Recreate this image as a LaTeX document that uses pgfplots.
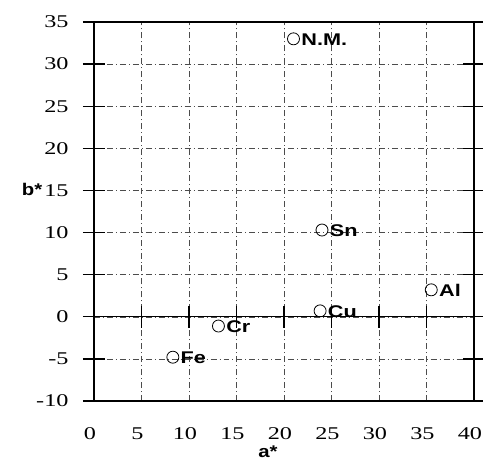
\documentclass[border=0pt]{standalone}
\usepackage{graphicx}
\usepackage{pgfplots}
\pgfplotsset{compat=1.18}
\usepackage{fontspec}
\setmainfont{Liberation Serif}
\newfontfamily\labelfont{Liberation Sans}
\newcommand{\wide}[2][1.35]{\scalebox{#1}[1]{#2}}

\pgfplotsset{
  frame/.style={
    scale only axis,
    width=380bp, height=379bp,
    xmin=0, xmax=40, ymin=-10, ymax=35,
  },
}

\begin{document}
\begin{tikzpicture}
% box, grid, b* ticks and all tick labels
\begin{axis}[
  frame,
  xtick={0,5,...,40}, ytick={-10,-5,...,35},
  axis line style={line width=1.2pt},
  grid=major,
  major grid style={black!70, line width=0.45pt, dash pattern=on 6pt off 3pt on 1pt off 3pt},
  xtick style={draw=none},
  ytick style={line width=1.4pt, black},
  tick align=center,
  major tick length=22bp,
  /pgf/number format/assume math mode=true,
  tick label style={font=\fontsize{18}{20}\selectfont},
  xticklabel={\wide{\pgfmathprintnumber{\tick}}},
  yticklabel={\wide{\pgfmathprintnumber{\tick}}},
  yticklabel style={xshift=-11bp},
  xticklabel style={yshift=-12bp, xshift=-4bp},
  nodes near coords={\wide[1.28]{\pgfplotspointmeta}},
  every node near coord/.append style={font=\labelfont\bfseries\fontsize{17}{19}\selectfont, anchor=west, inner sep=0pt, xshift=7.5bp, yshift=-0.5bp},
  clip=false,
]
\addplot[only marks, mark=o, mark size=6bp, mark options={line width=0.8pt, black},
  point meta=explicit symbolic]
  table[meta=label] {
x    y     label
21.0 33.0  N.M.
24.0 10.3  Sn
35.5 3.2   Al
23.8 0.7   Cu
13.1 -1.1  Cr
8.3  -4.8  Fe
};
\node[font=\labelfont\bfseries\fontsize{17}{19}\selectfont] at (rel axis cs:0,0.557) [xshift=-62bp] {\wide[1.2]{b*}};
\node[font=\labelfont\bfseries\fontsize{17}{19}\selectfont] at (rel axis cs:0.458,0) [yshift=-51bp] {\wide[1.2]{a*}};
\end{axis}
% the a* axis line along b* = 0, with its ticks crossing it
\begin{axis}[
  frame,
  axis x line=middle, axis y line=none,
  axis line style={line width=1.2pt, -},
  xtick={5,10,...,35}, xticklabels={},
  ytick=\empty,
  xtick style={line width=1.4pt, black},
  tick align=center,
  major tick length=22bp,
]
\end{axis}
\pgfresetboundingbox
\path ([shift={(-94bp,-67bp)}]current axis.south west) rectangle ([shift={(9bp,22bp)}]current axis.north east);
\end{tikzpicture}
\end{document}
